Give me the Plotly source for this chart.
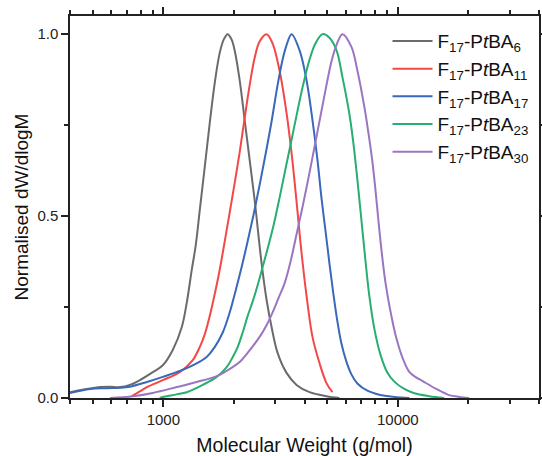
import plotly.graph_objects as go

# Molecular weight (g/mol) and normalised dW/dlogM for each sample
gray_M = [400, 487, 537, 592, 653, 720, 794, 902, 995, 1097, 1199, 1259, 1322, 1375, 1430, 1502, 1577,
          1656, 1739, 1809, 1881, 1956, 2014, 2116, 2223, 2335, 2452, 2625, 2756, 2895, 3071, 3354, 3700,
          4202, 4963, 5637]
gray_y = [0.016, 0.026, 0.030, 0.031, 0.030, 0.036, 0.049, 0.071, 0.090, 0.132, 0.195, 0.262, 0.352, 0.42,
          0.516, 0.635, 0.755, 0.865, 0.948, 0.985, 1.0, 0.985, 0.956, 0.874, 0.764, 0.654, 0.544, 0.37,
          0.27, 0.195, 0.124, 0.069, 0.036, 0.016, 0.005, 0.0]

red_M = [734, 794, 851, 995, 1175, 1335, 1430, 1502, 1577, 1656, 1739, 1827, 1919, 2014, 2116, 2223, 2335,
         2452, 2574, 2756, 2923, 3131, 3354, 3523, 3700, 3884, 4120, 4326, 4634, 4963, 5262]
red_y = [0.005, 0.018, 0.03, 0.049, 0.071, 0.104, 0.14, 0.175, 0.225, 0.285, 0.352, 0.43, 0.51, 0.59,
         0.675, 0.77, 0.86, 0.935, 0.98, 1.0, 0.975, 0.9, 0.783, 0.673, 0.54, 0.40, 0.26, 0.168, 0.096,
         0.041, 0.016]

blue_M = [400, 487, 575, 653, 720, 851, 995, 1259, 1531, 1656, 1792, 1919, 2034, 2158, 2288, 2428, 2574,
          2729, 2895, 3071, 3225, 3354, 3523, 3809, 4079, 4326, 4544, 4725, 4915, 5110, 5315, 5527, 5748,
          6037, 6341, 6723, 7418, 8343, 9663, 11193]
blue_y = [0.014, 0.025, 0.027, 0.028, 0.031, 0.044, 0.058, 0.082, 0.113, 0.14, 0.18, 0.235, 0.295, 0.36,
          0.43, 0.505, 0.585, 0.67, 0.76, 0.86, 0.93, 0.97, 1.0, 0.956, 0.874, 0.764, 0.654, 0.55, 0.46,
          0.37, 0.285, 0.21, 0.15, 0.10, 0.065, 0.04, 0.02, 0.009, 0.003, 0.0]

green_M = [966, 995, 1141, 1259, 1473, 1689, 1863, 1975, 2075, 2180, 2288, 2404, 2524, 2651, 2784, 2953,
           3131, 3320, 3523, 3736, 3961, 4202, 4456, 4772, 5110, 5474, 5805, 6218, 6466, 6723, 6993, 7272,
           7562, 7943, 8425, 9022, 9663, 10656, 11755, 13614, 15770]
green_y = [0.0, 0.003, 0.01, 0.016, 0.036, 0.058, 0.085, 0.112, 0.14, 0.18, 0.225, 0.265, 0.31, 0.36,
           0.41, 0.475, 0.55, 0.63, 0.71, 0.79, 0.865, 0.93, 0.975, 1.0, 0.99, 0.956, 0.882, 0.78, 0.70,
           0.60, 0.49, 0.38, 0.28, 0.19, 0.12, 0.07, 0.045, 0.025, 0.013, 0.005, 0.0]

purple_M = [592, 742, 902, 1141, 1388, 1689, 1975, 2116, 2288, 2574, 2756, 2923, 3101, 3289, 3488, 3700,
            3923, 4160, 4413, 4680, 4963, 5212, 5474, 5805, 6341, 6723, 7200, 7487, 7790, 8021, 8260, 8506,
            8846, 9293, 9854, 10554, 11193, 11869, 12713, 14581, 16561, 18270, 20149]
purple_y = [0.0, 0.005, 0.014, 0.03, 0.044, 0.06, 0.085, 0.099, 0.124, 0.168, 0.2, 0.235, 0.275, 0.315,
            0.375, 0.45, 0.525, 0.605, 0.69, 0.775, 0.86, 0.925, 0.97, 1.0, 0.965, 0.9, 0.8, 0.73, 0.65,
            0.575, 0.49, 0.41, 0.32, 0.24, 0.165, 0.105, 0.072, 0.058, 0.047, 0.025, 0.008, 0.003, 0.0]

names = ["F<sub>17</sub>-P<i>t</i>BA<sub>6</sub>",
         "F<sub>17</sub>-P<i>t</i>BA<sub>11</sub>",
         "F<sub>17</sub>-P<i>t</i>BA<sub>17</sub>",
         "F<sub>17</sub>-P<i>t</i>BA<sub>23</sub>",
         "F<sub>17</sub>-P<i>t</i>BA<sub>30</sub>"]
colors = ["#6b6b6b", "#F24848", "#3A68BA", "#27AE70", "#9A76C2"]

x_major = [1000, 10000]
x_minor = [400, 500, 600, 700, 800, 900, 2000, 3000, 4000, 5000, 6000, 7000, 8000, 9000,
           20000, 30000, 40000]
y_major = [0.0, 0.5, 1.0]
y_minor = [0.25, 0.75]
x_range = [2.60206, 4.60206]
y_range = [0, 1.05]

series = [(gray_M, gray_y), (red_M, red_y), (blue_M, blue_y), (green_M, green_y), (purple_M, purple_y)]

fig = go.Figure()
for (mx, my), nm, col in zip(series, names, colors):
    fig.add_trace(go.Scatter(x=mx, y=my, mode="lines", name=nm,
                             line=dict(color=col, width=2, shape="spline", smoothing=1.0)))

font_family = "Arial, Liberation Sans, sans-serif"
ink = "#222222"
axis_common = dict(showline=True, linecolor=ink, linewidth=1.5, mirror="allticks",
                   ticks="outside", tickcolor=ink, tickwidth=1.5, ticklen=7,
                   showgrid=False, zeroline=False, automargin=False,
                   tickfont=dict(size=15, color=ink, family=font_family))
minor_x = dict(tickvals=x_minor, ticks="outside", ticklen=4, tickcolor=ink, tickwidth=1.5, showgrid=False)
minor_y = dict(tickvals=y_minor, ticks="outside", ticklen=4, tickcolor=ink, tickwidth=1.5, showgrid=False)

fig.update_layout(
    xaxis=dict(type="log", range=x_range, tickvals=x_major, ticktext=[str(v) for v in x_major],
               minor=minor_x,
               title=dict(text="Molecular Weight (g/mol)", standoff=16,
                          font=dict(size=19.5, color="#111111", family=font_family)),
               **axis_common),
    yaxis=dict(range=y_range, tickvals=y_major, ticktext=["0.0", "0.5", "1.0"], minor=minor_y,
               title=dict(text="Normalised dW/dlogM", standoff=4,
                          font=dict(size=19, color="#111111", family=font_family)),
               **axis_common),
)

fig.update_layout(width=542, height=456,
                  margin=dict(l=70, r=3, t=16, b=58, autoexpand=False),
                  plot_bgcolor="white", paper_bgcolor="white",
                  font=dict(family=font_family, color="#111111"),
                  showlegend=True,
                  legend=dict(x=0.677, y=0.984, xanchor="left", yanchor="top",
                              bgcolor="rgba(0,0,0,0)", font=dict(size=19, color="#111111"),
                              tracegroupgap=0, itemwidth=40))

fig.write_html("out.html", config={"displayModeBar": False},
               post_script="document.body.style.margin='0';document.body.style.overflow='hidden';")
